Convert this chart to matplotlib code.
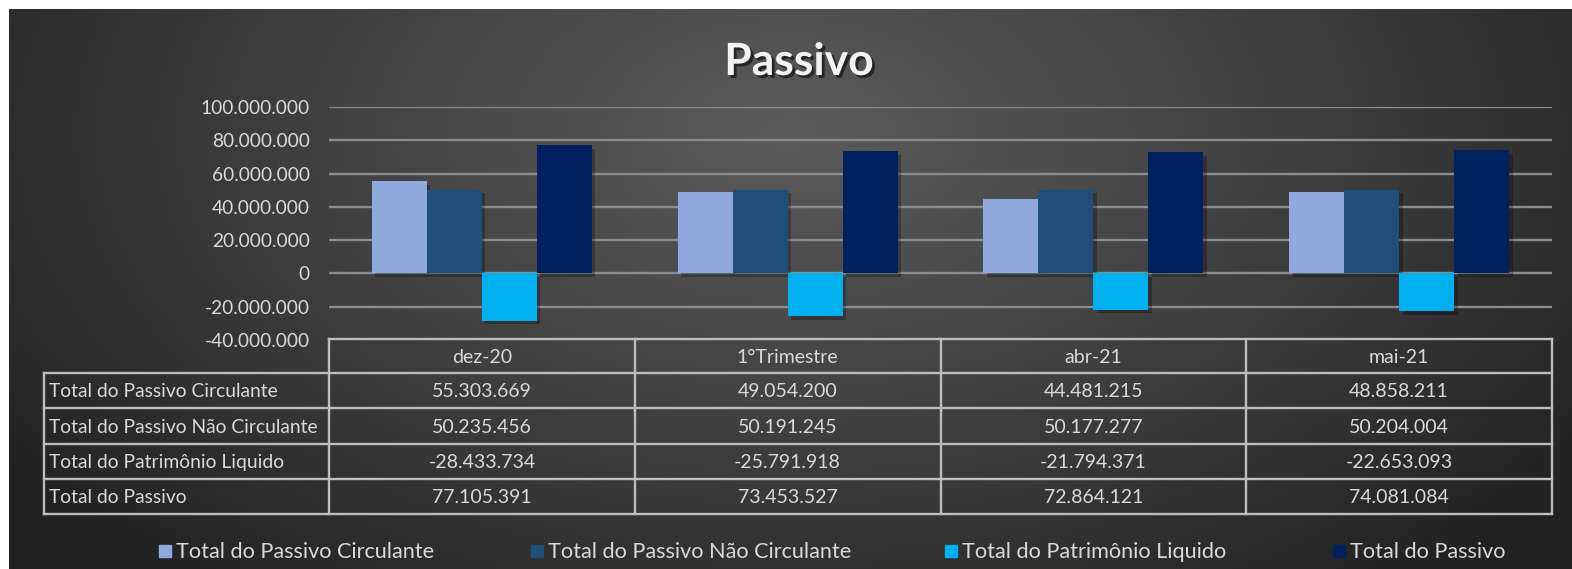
import numpy as np
import matplotlib
matplotlib.use("Agg")
import matplotlib.pyplot as plt
import matplotlib.patheffects as pe
from matplotlib.patches import Rectangle
from matplotlib.ticker import FuncFormatter

# ---------------- data ----------------
categories = ["dez-20", "1°Trimestre", "abr-21", "mai-21"]
series_names = ["Total do Passivo Circulante", "Total do Passivo Não Circulante",
                "Total do Patrimônio Liquido", "Total do Passivo"]
passivo_circulante = [55303669, 49054200, 44481215, 48858211]
passivo_nao_circulante = [50235456, 50191245, 50177277, 50204004]
patrimonio_liquido = [-28433734, -25791918, -21794371, -22653093]
total_passivo = [77105391, 73453527, 72864121, 74081084]
y_ticks = [-40000000, -20000000, 0, 20000000, 40000000, 60000000, 80000000, 100000000]

series = [passivo_circulante, passivo_nao_circulante, patrimonio_liquido, total_passivo]
colors = ["#8EA9DB", "#1F4E79", "#00B0F0", "#002060"]

FONT = ["Lato", "DejaVu Sans"]
plt.rcParams["font.family"] = FONT
TXT = "#d9d9d9"
LINE = "#bdbdbd"


def fmt(v):
    return f"{int(v):,}".replace(",", ".")


W, H = 1572, 569
fig = plt.figure(figsize=(W / 100, H / 100), dpi=100)
fig.patch.set_facecolor("white")

# ---------------- background ----------------
bg = fig.add_axes([9 / W, 0, 1 - 9 / W, 1 - 9 / H])
bg.axis("off")
ny, nx = 300, 800
yy, xx = np.mgrid[0:1:ny * 1j, 0:1:nx * 1j]
d = np.sqrt(((xx - 0.5) / 0.62) ** 2 + ((yy - 0.22) / 1.05) ** 2)
v = (0x5a - (0x5a - 0x22) * np.clip(d, 0, 1) ** 1.1) / 255.0
bg.imshow(np.dstack([v, v, v]), extent=[0, 1, 0, 1], origin="upper", aspect="auto")
bg.set_xlim(0, 1)
bg.set_ylim(0, 1)

# ---------------- main axes ----------------
L, R, T, B = 329, 1552, 107, 340
ax = fig.add_axes([L / W, 1 - B / H, (R - L) / W, (B - T) / H])
ax.set_facecolor("none")
ax.set_xlim(-0.5, len(categories) - 0.5)
ax.set_ylim(y_ticks[0], y_ticks[-1])
ax.set_yticks(y_ticks)
ax.yaxis.set_major_formatter(FuncFormatter(lambda val, p: fmt(val)))
ax.set_xticks([])
ax.yaxis.grid(True, color="#8c8c8c", lw=1.7)
ax.set_axisbelow(True)
for s in ax.spines.values():
    s.set_visible(False)
ax.tick_params(axis="y", length=0, pad=14, labelcolor=TXT, labelsize=13.8)

bw = 0.18
x = np.arange(len(categories))
for i, (vals, c) in enumerate(zip(series, colors)):
    bars = ax.bar(x + (i - 1.5) * bw, vals, width=bw, color=c, zorder=3, label=series_names[i])
    for b in bars:
        b.set_path_effects([pe.SimplePatchShadow(offset=(2.5, -2.5), alpha=0.28, shadow_rgbFace="black"),
                            pe.Normal()])

# ---------------- overlay (title, table, legend) ----------------
ov = fig.add_axes([0, 0, 1, 1])
ov.set_xlim(0, W)
ov.set_ylim(H, 0)
ov.axis("off")
ov.set_zorder(5)

ov.text(799, 62, "Passivo", color="#f2f2f2", fontsize=32, fontweight="bold",
        ha="center", va="center",
        path_effects=[pe.withSimplePatchShadow(offset=(2, -2), alpha=0.55, shadow_rgbFace="black")])

# table geometry
TL = 44
ncol = len(categories)
cw = (R - L) / ncol
head_top, head_bot = 339, 373
row_edges = [373, 408, 444, 479, 514]
lw = 1.7

# header
ov.plot([L, R], [head_top, head_top], color=LINE, lw=lw)
for k in range(ncol + 1):
    xc = L + k * cw
    ov.plot([xc, xc], [head_top, row_edges[-1]], color=LINE, lw=lw)
for yv in row_edges:
    ov.plot([TL, R], [yv, yv], color=LINE, lw=lw)
ov.plot([TL, TL], [row_edges[0], row_edges[-1]], color=LINE, lw=lw)

for k, cat in enumerate(categories):
    ov.text(L + (k + 0.5) * cw, (head_top + head_bot) / 2 + 1, cat, color=TXT,
            fontsize=14, ha="center", va="center")

for r, (name, vals) in enumerate(zip(series_names, series)):
    yc = (row_edges[r] + row_edges[r + 1]) / 2 + 1
    ov.text(TL + 5, yc, name, color=TXT, fontsize=13.9, ha="left", va="center")
    for k, val in enumerate(vals):
        ov.text(L + (k + 0.5) * cw, yc, fmt(val), color=TXT, fontsize=14,
                ha="center", va="center")

# legend
leg_x = [159, 531, 945, 1333]
leg_y = 551
for lx, name, c in zip(leg_x, series_names, colors):
    ov.add_patch(Rectangle((lx, leg_y - 6), 12, 12, color=c))
    ov.text(lx + 17, leg_y + 1, name, color=TXT, fontsize=15.6, ha="left", va="center")

fig.savefig("out.png", dpi=100, facecolor=fig.get_facecolor())
